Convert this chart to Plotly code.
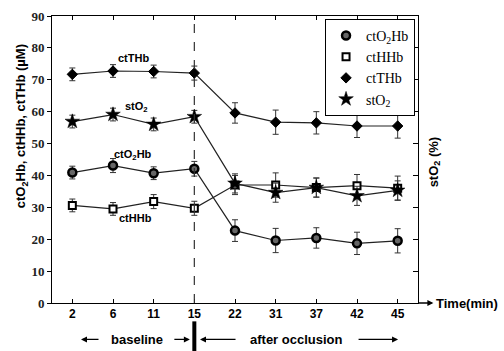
import plotly.graph_objects as go

time_labels = ["2", "6", "11", "15", "22", "31", "37", "42", "45"]
cto2hb = [40.9, 43.1, 40.7, 42.1, 22.7, 19.6, 20.4, 18.7, 19.5]
cto2hb_err = [2.0, 2.2, 2.0, 2.3, 3.4, 3.8, 3.2, 3.5, 3.8]
cthhb = [30.6, 29.5, 31.8, 29.7, 37.0, 37.0, 36.2, 36.8, 36.0]
cthhb_err = [2.0, 2.0, 2.2, 2.2, 3.0, 3.8, 3.0, 3.5, 3.8]
ctthb = [71.7, 72.75, 72.6, 72.1, 59.6, 56.7, 56.5, 55.5, 55.5]
ctthb_err = [2.0, 2.0, 2.0, 2.2, 3.2, 3.8, 3.5, 3.6, 3.8]
sto2 = [56.9, 59.1, 56.0, 58.4, 37.5, 34.6, 36.2, 33.6, 35.3]
sto2_err = [2.0, 2.0, 2.0, 2.0, 3.0, 3.0, 3.0, 3.0, 3.0]

x = list(range(len(time_labels)))

series = [
    ("ctO<sub>2</sub>Hb", cto2hb, cto2hb_err, dict(symbol="circle", size=8, color="#666666", line=dict(color="black", width=2.5)), "y"),
    ("ctHHb", cthhb, cthhb_err, dict(symbol="square", size=7, color="white", line=dict(color="black", width=2)), "y"),
    ("ctTHb", ctthb, ctthb_err, dict(symbol="diamond", size=8, color="black", line=dict(color="black", width=1)), "y"),
    ("stO<sub>2</sub>", sto2, sto2_err, dict(symbol="star", size=11, color="black", line=dict(color="black", width=0.5)), "y2"),
]

fig = go.Figure()
for name, vals, err, mk, yax in series:
    fig.add_trace(go.Scatter(
        x=x, y=vals, mode="lines+markers", yaxis=yax, showlegend=False,
        line=dict(color="#222222", width=1.2), marker=mk,
        error_y=dict(type="data", array=err, color="#333333", thickness=1, width=3),
    ))
for name, vals, err, mk, yax in series:
    fig.add_trace(go.Scatter(
        x=[None], y=[None], mode="markers", name=name, marker=mk, yaxis=yax,
    ))

fig.update_layout(
    width=504, height=351,
    margin=dict(l=52, r=86, t=15.5, b=47.5, autoexpand=False),
    plot_bgcolor="white", paper_bgcolor="white",
    showlegend=True,
    legend=dict(x=0.746, y=0.99, xanchor="left", yanchor="top",
                bordercolor="black", borderwidth=1, bgcolor="white",
                font=dict(family="Liberation Serif", size=14, color="black"),
                entrywidth=44, entrywidthmode="pixels", tracegroupgap=0),
    xaxis=dict(range=[-0.5, 8.5], tickvals=x, ticktext=time_labels,
               showgrid=False, zeroline=False, showline=True, linecolor="black",
               linewidth=1, ticks="inside", ticklen=4, tickcolor="black",
               mirror="ticks", automargin=False,
               tickfont=dict(family="Liberation Sans", size=12, color="black", weight="bold")),
    yaxis=dict(range=[0, 90], dtick=10, showgrid=False, zeroline=False,
               showline=True, linecolor="black", linewidth=1, ticks="outside",
               ticklen=4, tickcolor="black", automargin=False,
               tickfont=dict(family="Liberation Serif", size=13, color="#222222", weight="bold")),
    yaxis2=dict(range=[0, 90], dtick=10, overlaying="y", side="right",
                showgrid=False, zeroline=False, showline=True, linecolor="black",
                linewidth=1, ticks="inside", ticklen=5, tickcolor="black",
                showticklabels=False, automargin=False),
)

lbl_font = dict(family="Liberation Sans", size=11, color="black", weight="bold")
big_font = dict(family="Liberation Sans", size=13, color="black", weight="bold")
row_y = -0.127
annotations = [
    dict(text="ctTHb", x=1.5, y=76.7, xref="x", yref="y", showarrow=False, font=lbl_font),
    dict(text="stO<sub>2</sub>", x=1.57, y=61.4, xref="x", yref="y", showarrow=False, font=lbl_font),
    dict(text="ctO<sub>2</sub>Hb", x=1.5, y=46.4, xref="x", yref="y", showarrow=False, font=lbl_font),
    dict(text="ctHHb", x=1.55, y=26.7, xref="x", yref="y", showarrow=False, font=lbl_font),
    dict(text="ctO<sub>2</sub>Hb, ctHHb, ctTHb (µM)", textangle=-90, x=0, y=0.616,
         xref="paper", yref="paper", xanchor="center", yanchor="middle",
         xshift=-31, showarrow=False, font=big_font),
    dict(text="stO<sub>2</sub> (%)", textangle=-90, x=1, y=0.49,
         xref="paper", yref="paper", xanchor="center", yanchor="middle",
         xshift=16, showarrow=False, font=big_font),
    dict(text="Time(min)", x=1.04, y=0, xref="paper", yref="paper", xanchor="left",
         yanchor="middle", xshift=1, showarrow=False, font=big_font),
    dict(text="", x=1.042, y=0, xref="paper", yref="paper", ax=-16, ay=0,
         showarrow=True, arrowhead=2, arrowsize=1, arrowwidth=1.2, arrowcolor="black"),
    dict(text="baseline", x=1.58, y=row_y, xref="x", yref="paper", xanchor="center",
         yanchor="middle", showarrow=False, font=big_font),
    dict(text="after occlusion", x=5.5, y=row_y, xref="x", yref="paper", xanchor="center",
         yanchor="middle", showarrow=False, font=big_font),
    dict(text="", x=0.213, y=row_y, xref="x", yref="paper", ax=19, ay=0,
         showarrow=True, arrowhead=2, arrowsize=1, arrowwidth=1.2, arrowcolor="black"),
    dict(text="", x=2.89, y=row_y, xref="x", yref="paper", ax=-17, ay=0,
         showarrow=True, arrowhead=2, arrowsize=1, arrowwidth=1.2, arrowcolor="black"),
    dict(text="", x=3.14, y=row_y, xref="x", yref="paper", ax=37, ay=0,
         showarrow=True, arrowhead=2, arrowsize=1, arrowwidth=1.2, arrowcolor="black"),
    dict(text="", x=8.01, y=row_y, xref="x", yref="paper", ax=-41, ay=0,
         showarrow=True, arrowhead=2, arrowsize=1, arrowwidth=1.2, arrowcolor="black"),
]
fig.update_layout(annotations=annotations)

fig.add_shape(type="line", xref="x", yref="y", x0=3, x1=3, y0=0, y1=90,
              line=dict(color="#333333", width=1.2, dash="dash"))
fig.add_shape(type="line", xref="x", yref="paper", x0=3, x1=3, y0=-0.064, y1=-0.17,
              line=dict(color="black", width=4))
fig.add_shape(type="line", xref="paper", yref="paper", x0=1, x1=1.035, y0=0, y1=0,
              line=dict(color="black", width=1))

fig.write_html("out.html", config={"displayModeBar": False},
               post_script="document.body.style.margin='0';")
